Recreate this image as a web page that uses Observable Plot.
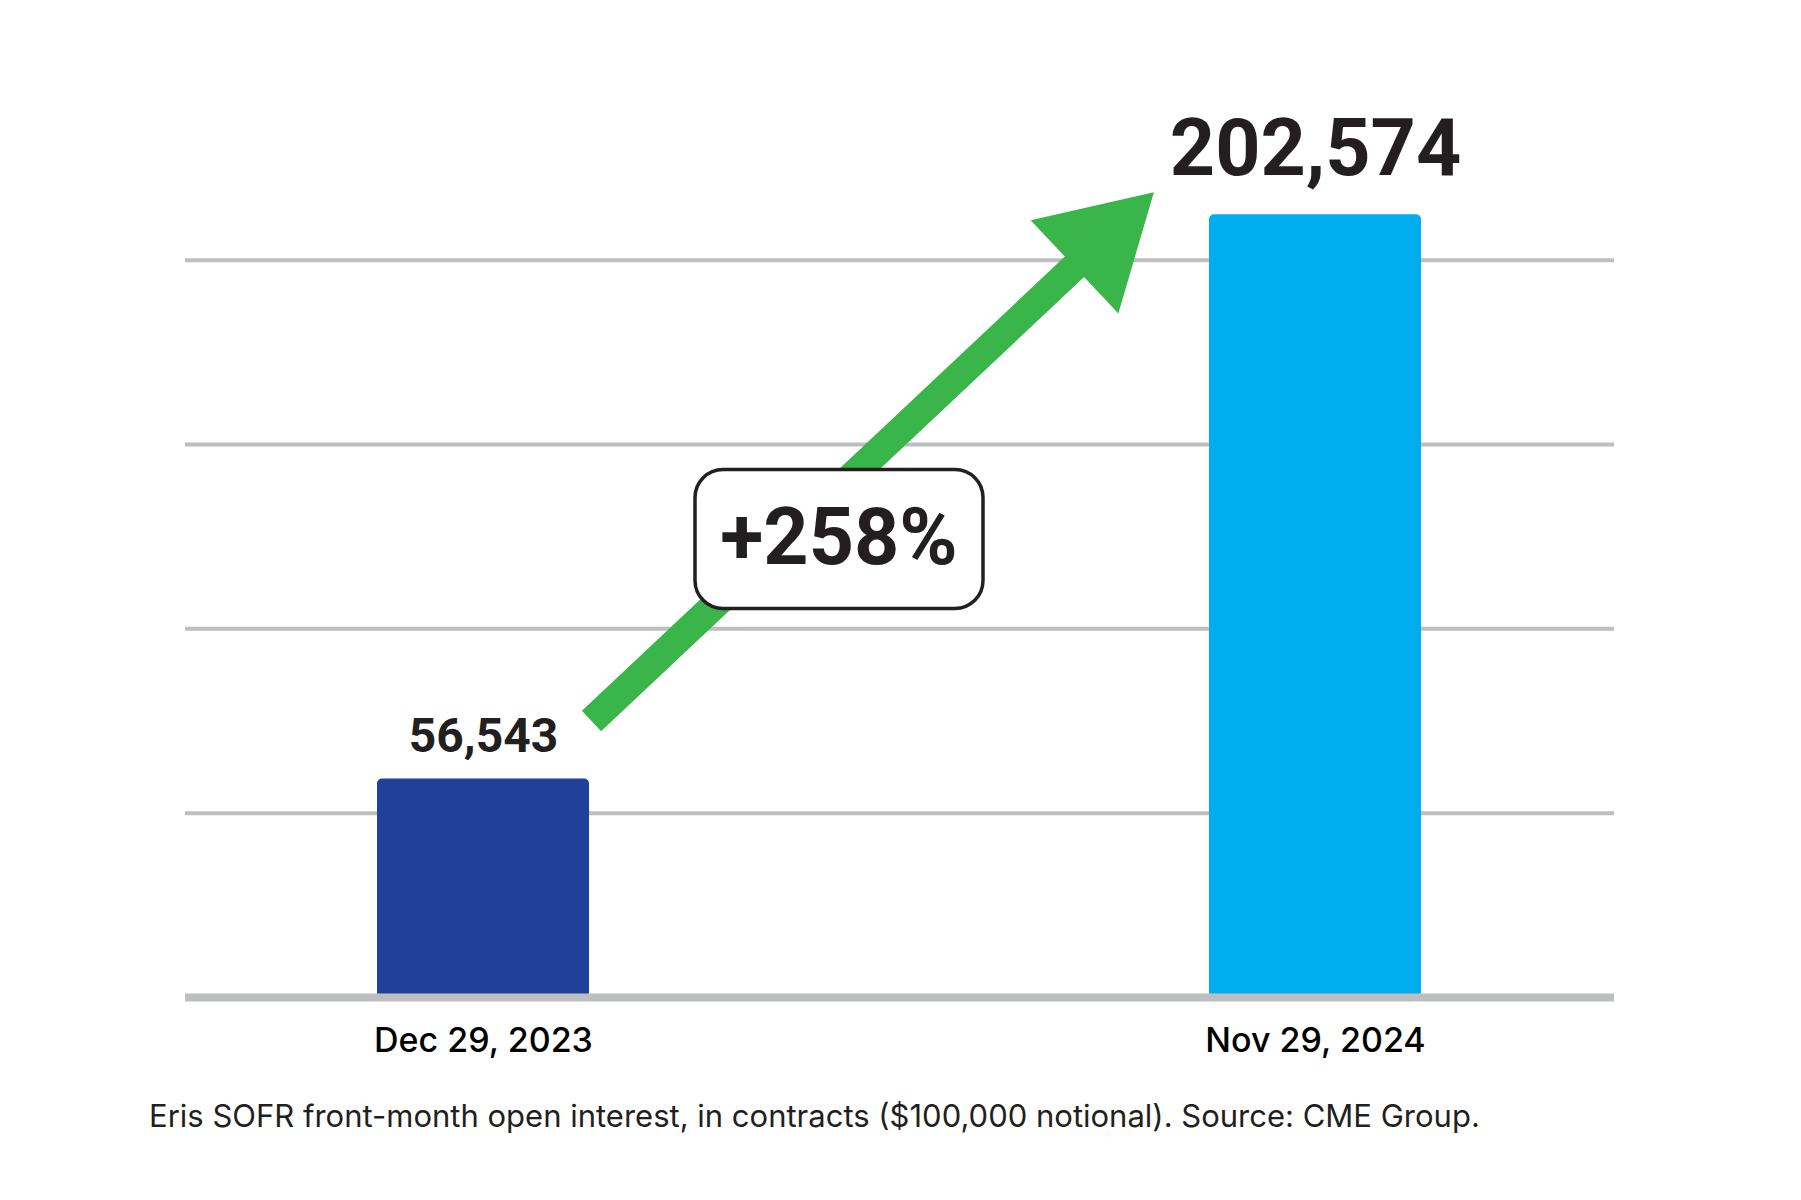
<!DOCTYPE html>
<html><head><meta charset="utf-8">
<script src="https://cdn.jsdelivr.net/npm/d3@7"></script>
<script src="https://cdn.jsdelivr.net/npm/@observablehq/plot@0.6"></script>
<style>
body{margin:0;background:#fff;width:1801px;height:1200px;position:relative;overflow:hidden;font-family:Inter, sans-serif;}
#chart{position:absolute;left:0;top:0;}
#caption{position:absolute;left:149px;top:1096px;font-size:31px;line-height:40px;color:#231f20;white-space:nowrap;font-family:Inter, sans-serif;}
</style></head>
<body><div id="chart"></div><div id="caption"></div>
<script>
// ---- data ----
const dates = ["Dec 29, 2023", "Nov 29, 2024"];
const openInterest = [56543, 202574];
const barColors = ["#21409a", "#00aeef"];
const gridTicks = [47700, 95400, 143100, 190800];
const captionText = "Eris SOFR front-month open interest, in contracts ($100,000 notional). Source: CME Group.";

const data = dates.map((d, i) => ({date: d, value: openInterest[i], color: barColors[i]}));
const pctChange = Math.round((openInterest[1] / openInterest[0] - 1) * 100);
const fmt = d3.format(",");

// ---- annotation shapes ----
function arrowSymbol(angleDeg, length, headLength, shaftHalf, headHalf) {
  const a = angleDeg * Math.PI / 180;
  const ux = Math.cos(a), uy = Math.sin(a);
  const nx = -uy, ny = ux;
  const b = length - headLength;
  const pts = [
    [-shaftHalf * nx, -shaftHalf * ny],
    [b * ux - shaftHalf * nx, b * uy - shaftHalf * ny],
    [b * ux - headHalf * nx, b * uy - headHalf * ny],
    [length * ux, length * uy],
    [b * ux + headHalf * nx, b * uy + headHalf * ny],
    [b * ux + shaftHalf * nx, b * uy + shaftHalf * ny],
    [shaftHalf * nx, shaftHalf * ny]
  ];
  return {draw(ctx) {
    ctx.moveTo(pts[0][0], pts[0][1]);
    for (let i = 1; i < pts.length; i++) ctx.lineTo(pts[i][0], pts[i][1]);
    ctx.closePath();
  }};
}
function roundRectSymbol(w, h, r) {
  return {draw(ctx) {
    const x0 = -w / 2, y0 = -h / 2, x1 = w / 2, y1 = h / 2;
    ctx.moveTo(x0 + r, y0);
    ctx.lineTo(x1 - r, y0);
    ctx.arcTo(x1, y0, x1, y0 + r, r);
    ctx.lineTo(x1, y1 - r);
    ctx.arcTo(x1, y1, x1 - r, y1, r);
    ctx.lineTo(x0 + r, y1);
    ctx.arcTo(x0, y1, x0, y1 - r, r);
    ctx.lineTo(x0, y0 + r);
    ctx.arcTo(x0, y0, x0 + r, y0, r);
    ctx.closePath();
  }};
}

const boldFont = "Roboto, Inter, sans-serif";

const chart = Plot.plot({
  width: 1801,
  height: 1060,
  marginLeft: 185,
  marginRight: 187,
  marginTop: 0,
  marginBottom: 63,
  style: {fontFamily: "Inter, sans-serif", background: "transparent"},
  x: {type: "band", domain: dates, paddingInner: 0.745, paddingOuter: 0.2305, align: 0.5, axis: null},
  y: {domain: [0, 258000], axis: null},
  color: {type: "identity"},
  marks: [
    Plot.ruleY(gridTicks, {stroke: "#bcbec0", strokeWidth: 4}),
    Plot.barY(data, {x: "date", y: "value", fill: "color", rx: 5}),
    Plot.ruleY([0], {stroke: "#bcbec0", strokeWidth: 8}),
    Plot.axisX({label: null, tickSize: 0, tickPadding: 30, fontSize: 34, fill: "#000", fontWeight: 500}),
    Plot.text([data[0]], {x: "date", y: "value", text: d => fmt(d.value), lineAnchor: "bottom", dy: -27, fontSize: 48, fontWeight: 700, fontFamily: boldFont, fill: "#231f20"}),
    Plot.text([data[1]], {x: "date", y: "value", text: d => fmt(d.value), lineAnchor: "bottom", dy: -40, fontSize: 79, fontWeight: 700, fontFamily: boldFont, fill: "#231f20"}),
    Plot.dot([data[0]], {x: "date", y: "value", dx: 108, dy: -58, r: 10,
      symbol: arrowSymbol(-43.24, 772, 109, 14, 64), fill: "#39b54a", stroke: "none"}),
    Plot.dot([pctChange], {frameAnchor: "middle", dx: -61, dy: 40, r: 10,
      symbol: roundRectSymbol(288, 139, 28), fill: "#fff", stroke: "#231f20", strokeWidth: 3.5}),
    Plot.text([pctChange], {frameAnchor: "middle", dx: -61, dy: 40, text: d => `+${d}%`, fontSize: 79, fontWeight: 700, fontFamily: boldFont, fill: "#231f20"})
  ]
});
document.getElementById("chart").appendChild(chart);
document.getElementById("caption").textContent = captionText;
</script>
</body></html>
